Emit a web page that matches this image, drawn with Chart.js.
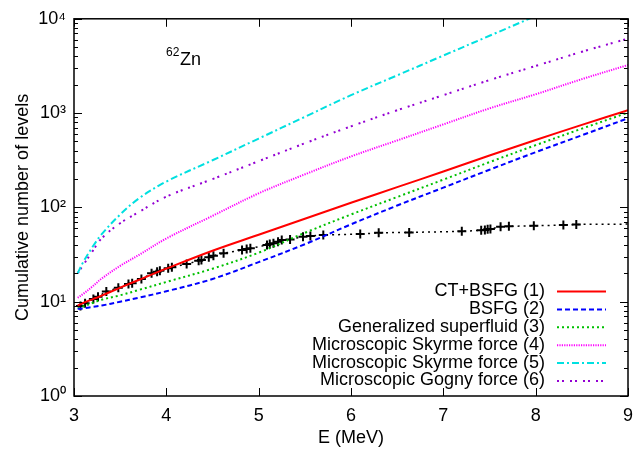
<!DOCTYPE html>
<html><head><meta charset="utf-8">
<script src="https://cdn.jsdelivr.net/npm/chart.js@4.4.1/dist/chart.umd.min.js"></script>
<style>html,body{margin:0;padding:0;background:#fff;}canvas{display:block;}</style>
</head><body>
<canvas id="c" width="644" height="452"></canvas>
<script>
// Model curves: energies (MeV) and cumulative number of levels
const energies = [3.04,3.1,3.2,3.3,3.5,3.7,4.0,4.5,5.0,5.5,6.0,6.5,7.0,7.5,8.0,8.5,9.0];
const ctBsfg      = [9.1,9.7,10.6,11.6,14.1,17.0,22.4,34.7,51.3,75.9,112,164,240,355,519,750,1072];
const bsfg        = [8.4,8.5,8.8,9.1,10,11,12.9,17.4,26.3,40.7,66.1,104.7,162,251,385,582,881];
const genSuper    = [8.5,8.9,9.7,10.5,11.7,13.3,16.2,22.4,33.1,53.7,84.1,128.8,197,302,457,684,1012];
const skyrme4     = [11,12.1,14.5,17.6,24,31.2,46.8,81.3,141,224,347,513,759,1122,1585,2291,3236];
const skyrme5     = [20,26.3,38,52,84,124,188,316,537,912,1549,2512,4074,6607,10715,17378,27542];
const gogny6      = [20,24.5,34.2,47,68,89,130,199.5,309,479,724,1072,1549,2239,3162,4467,6166];
// Experimental cumulative levels
const expEnergy = [3.07,3.12,3.21,3.26,3.35,3.48,3.59,3.63,3.73,3.84,3.90,3.93,4.02,4.06,4.22,4.35,4.38,4.46,4.51,4.62,4.82,4.87,4.91,5.09,5.12,5.16,5.21,5.25,5.34,5.48,5.56,5.70,6.10,6.30,6.63,7.20,7.41,7.45,7.48,7.51,7.62,7.71,7.98,8.30,8.44,9.0];
const expCount  = [9.0,9.6,10.7,11.3,12.8,14.1,15.4,15.7,17.4,20.0,20.8,21.3,22.6,23.2,25.1,27.2,27.7,29.6,30.8,32.6,35.3,36.2,36.8,39.9,40.9,41.6,43.3,45.1,45.8,48.9,49.7,50.9,52.1,53.8,54.3,55.7,57.1,57.5,58.5,59.0,62.4,63.0,63.8,65.0,66.0,66.5];
const xTicks = [3,4,5,6,7,8,9];
const yDecades = [1,10,100,1000,10000];
const seriesNames = ['CT+BSFG (1)','BSFG (2)','Generalized superfluid (3)','Microscopic Skyrme force (4)','Microscopic Skyrme force (5)','Microscopic Gogny force (6)'];

const pts = (xs, ys) => xs.map((x,i)=>({x:x, y:ys[i]}));
const styles = [
  {c:'#ff0000', d:[]},
  {c:'#0000ff', d:[5,3]},
  {c:'#00c000', d:[2,3]},
  {c:'#ff00ff', d:[1.2,1.2]},
  {c:'#00e0e0', d:[7,3,2,3]},
  {c:'#9400d3', d:[2,3,2,6]}
];
const modelData = [ctBsfg,bsfg,genSuper,skyrme4,skyrme5,gogny6];
const datasets = modelData.map((ys,i)=>({
  label: seriesNames[i],
  data: pts(energies, ys),
  borderColor: styles[i].c,
  borderDash: styles[i].d,
  borderWidth: 2,
  pointRadius: 0,
  fill: false,
  tension: 0.35
}));
datasets.push({
  label: 'exp',
  data: pts(expEnergy, expCount),
  borderColor: '#000',
  backgroundColor: '#000',
  borderDash: [2,4],
  borderWidth: 1.5,
  pointStyle: 'cross',
  pointRadius: expEnergy.map((e,i)=> i===expEnergy.length-1 ? 0 : 4.5),
  pointBorderWidth: 2,
  pointBorderColor: '#000',
  fill: false,
  tension: 0
});

const sup = {0:'\u2070',1:'\u00b9',2:'\u00b2',3:'\u00b3',4:'\u2074'};

const deco = {
  id: 'deco',
  afterDatasetsDraw(chart){
    const ctx = chart.ctx, a = chart.chartArea;
    const xs = chart.scales.x, ys = chart.scales.y;
    ctx.save();
    ctx.strokeStyle = '#000';
    ctx.lineWidth = 1.5;
    ctx.setLineDash([]);
    ctx.strokeRect(a.left, a.top, a.right-a.left, a.bottom-a.top);
    ctx.lineWidth = 1;
    ctx.beginPath();
    xTicks.forEach(v=>{
      const px = Math.round(xs.getPixelForValue(v))+0.5;
      ctx.moveTo(px, a.bottom); ctx.lineTo(px, a.bottom-8);
      ctx.moveTo(px, a.top); ctx.lineTo(px, a.top+8);
    });
    yDecades.forEach(d=>{
      for(let k=1;k<=9;k++){
        const v = d*k; if (v>10000) break;
        const py = Math.round(ys.getPixelForValue(v))+0.5;
        const len = k===1 ? 8 : 4;
        ctx.moveTo(a.left, py); ctx.lineTo(a.left+len, py);
        ctx.moveTo(a.right, py); ctx.lineTo(a.right-len, py);
      }
    });
    ctx.stroke();
    ctx.restore();
  },
  afterDraw(chart){
    const ctx = chart.ctx;
    ctx.save();
    ctx.fillStyle = '#000';
    ctx.font = '18px "Liberation Sans", Arial, sans-serif';
    ctx.textBaseline = 'middle';
    ctx.textAlign = 'right';
    const rowY0 = 291, rowH = 17.9;
    seriesNames.forEach((n,i)=>{
      const y = rowY0 + i*rowH;
      ctx.fillText(n, 545, y);
      ctx.save();
      ctx.strokeStyle = styles[i].c;
      ctx.setLineDash(styles[i].d);
      ctx.lineWidth = 2;
      ctx.beginPath(); ctx.moveTo(557, y+0.5); ctx.lineTo(606, y+0.5); ctx.stroke();
      ctx.restore();
    });
    ctx.textAlign = 'left';
    ctx.textBaseline = 'alphabetic';
    ctx.font = '12px "Liberation Sans", Arial, sans-serif';
    ctx.fillText('62', 166, 56);
    ctx.font = '18px "Liberation Sans", Arial, sans-serif';
    ctx.fillText('Zn', 180, 65);
    ctx.restore();
  }
};

Chart.defaults.font.family = '"Liberation Sans", Arial, sans-serif';
Chart.defaults.font.size = 18;
Chart.defaults.color = '#000';

new Chart(document.getElementById('c'), {
  type: 'line',
  data: { datasets },
  options: {
    responsive: false,
    animation: false,
    devicePixelRatio: 1,
    layout: { padding: { left: 0, top: 18, right: 16, bottom: 0 } },
    plugins: { legend: { display: false }, tooltip: { enabled: false } },
    scales: {
      x: {
        type: 'linear', min: 3, max: 9,
        afterBuildTicks(s){ s.ticks = xTicks.map(v=>({value:v})); },
        ticks: { padding: 9, maxRotation: 0, autoSkip: false },
        grid: { display: false, drawTicks: false },
        border: { display: false },
        title: { display: true, text: 'E (MeV)', padding: { top: 2, bottom: 3 } },
        afterFit(s){ s.height = 56; }
      },
      y: {
        type: 'logarithmic', min: 1, max: 10000,
        afterBuildTicks(s){ s.ticks = yDecades.map(v=>({value:v})); },
        ticks: {
          padding: 8, autoSkip: false,
          callback(v){ const e = Math.round(Math.log10(v)); return '10' + sup[e]; }
        },
        grid: { display: false, drawTicks: false },
        border: { display: false },
        title: { display: true, text: 'Cumulative number of levels', padding: { top: 12, bottom: 2 } },
        afterFit(s){ s.width = 74; }
      }
    }
  },
  plugins: [deco]
});
</script>
</body></html>
